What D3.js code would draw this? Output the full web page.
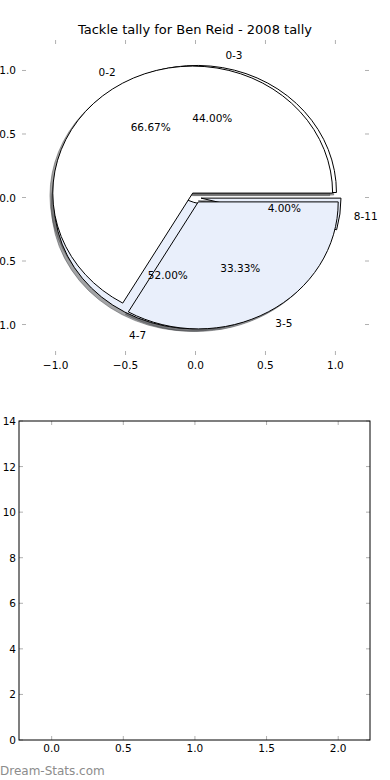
<!DOCTYPE html>
<html>
<head>
<meta charset="utf-8">
<script src="https://cdn.jsdelivr.net/npm/d3@7"></script>
<style>
  body { margin: 0; background: #fff; }
  svg { display: block; font-family: "DejaVu Sans", sans-serif; }
</style>
</head>
<body>
<svg id="chart" width="390" height="780"></svg>
<script>
// first pie (drawn on top)
var pieALabels = ["0-2", "3-5"];
var pieAValues = [2, 1];
var pieAExplode = [0.04, 0.04];
var pieAColors = ["#ffffff", "#e9effb"];

// second pie (drawn underneath)
var pieBLabels = ["0-3", "4-7", "8-11"];
var pieBValues = [11, 13, 1];
var pieBExplode = [0.04, 0.04, 0.04];
var pieBColors = ["#ffffff", "#e9effb", "#e9effb"];

var titleText = "Tackle tally for Ben Reid - 2008 tally";
var topTicks = [-1.0, -0.5, 0.0, 0.5, 1.0];
var bottomXTicks = [0.0, 0.5, 1.0, 1.5, 2.0];
var bottomYTicks = [0, 2, 4, 6, 8, 10, 12, 14];

var svg = d3.select("#chart");
var tickColor = "#b0b0b0";
var fmtTick = function (d) { return d3.format(".1f")(d).replace("-", "\u2212"); };

// ---------- top axes (pie) ----------
var xTop = d3.scaleLinear().domain([-1.24, 1.24]).range([22, 369]);
var yTop = d3.scaleLinear().domain([-1.24, 1.24]).range([355, 40]);
var kx = xTop(1) - xTop(0);
var ky = yTop(0) - yTop(1);

svg.append("text")
    .attr("x", 195).attr("y", 34)
    .attr("text-anchor", "middle")
    .attr("font-size", 13)
    .text(titleText);

var topAxes = svg.append("g");
topTicks.forEach(function (t) {
    // x ticks top + bottom
    topAxes.append("line").attr("x1", xTop(t)).attr("x2", xTop(t)).attr("y1", 40).attr("y2", 44)
        .attr("stroke", tickColor);
    topAxes.append("line").attr("x1", xTop(t)).attr("x2", xTop(t)).attr("y1", 355).attr("y2", 351)
        .attr("stroke", tickColor);
    topAxes.append("text").attr("x", xTop(t)).attr("y", 369)
        .attr("text-anchor", "middle").attr("font-size", 10.5).text(fmtTick(t));
    // y ticks left + right
    topAxes.append("line").attr("x1", 22).attr("x2", 26).attr("y1", yTop(t)).attr("y2", yTop(t))
        .attr("stroke", tickColor);
    topAxes.append("line").attr("x1", 369).attr("x2", 365).attr("y1", yTop(t)).attr("y2", yTop(t))
        .attr("stroke", tickColor);
    topAxes.append("text").attr("x", 16).attr("y", yTop(t) + 4)
        .attr("text-anchor", "end").attr("font-size", 10.5).text(fmtTick(t));
});

// matplotlib style: start at 3 o'clock, counter clockwise
var pieGen = d3.pie().sort(null).startAngle(Math.PI / 2).endAngle(Math.PI / 2 - 2 * Math.PI);
var arcGen = d3.arc().innerRadius(0).outerRadius(1);

function buildPie(labels, values, explode, colors) {
    var total = d3.sum(values);
    return pieGen(values).map(function (a, i) {
        var m = (a.startAngle + a.endAngle) / 2;
        var dx = Math.sin(m), dy = Math.cos(m);
        return {
            arc: a, label: labels[i], color: colors[i],
            pct: d3.format(".2f")(values[i] / total * 100) + "%",
            cx: explode[i] * dx, cy: explode[i] * dy, dx: dx, dy: dy
        };
    });
}

var pieA = buildPie(pieALabels, pieAValues, pieAExplode, pieAColors);
var pieB = buildPie(pieBLabels, pieBValues, pieBExplode, pieBColors);

function shade(col) {
    var c = d3.rgb(col);
    return d3.rgb(c.r * 0.3, c.g * 0.3, c.b * 0.3).toString();
}

function drawWedges(g, wedges, shadow) {
    g.selectAll("path")
        .data(wedges).enter()
        .append("path")
        .attr("transform", function (d) {
            var ox = shadow ? -0.02 : 0, oy = shadow ? -0.02 : 0;
            return "translate(" + xTop(d.cx + ox) + "," + yTop(d.cy + oy) + ") scale(" + kx + "," + ky + ")";
        })
        .attr("d", function (d) { return arcGen(d.arc); })
        .attr("vector-effect", "non-scaling-stroke")
        .attr("fill", function (d) { return shadow ? shade(d.color) : d.color; })
        .attr("fill-opacity", shadow ? 0.5 : 1)
        .attr("stroke", function (d) { return shadow ? shade(d.color) : "#000"; })
        .attr("stroke-opacity", shadow ? 0.5 : 1)
        .attr("stroke-width", 1);
}

var pieLayer = svg.append("g");
drawWedges(pieLayer.append("g"), pieB, true);
drawWedges(pieLayer.append("g"), pieA, true);
drawWedges(pieLayer.append("g"), pieB, false);
drawWedges(pieLayer.append("g"), pieA, false);

function drawLabels(wedges) {
    wedges.forEach(function (d) {
        var lx = d.cx + 1.1 * d.dx, ly = d.cy + 1.1 * d.dy;
        pieLayer.append("text")
            .attr("x", xTop(lx)).attr("y", yTop(ly) + 4)
            .attr("text-anchor", lx > 0 ? "start" : "end")
            .attr("font-size", 10.5)
            .text(d.label);
        var px = d.cx + 0.6 * d.dx, py = d.cy + 0.6 * d.dy;
        pieLayer.append("text")
            .attr("x", xTop(px)).attr("y", yTop(py) + 4)
            .attr("text-anchor", "middle")
            .attr("font-size", 10.5)
            .text(d.pct);
    });
}
drawLabels(pieB);
drawLabels(pieA);

// ---------- bottom axes (empty) ----------
var xBot = d3.scaleLinear().domain([-0.228, 2.222]).range([19, 370]);
var yBot = d3.scaleLinear().domain([0, 14]).range([740, 421]);

var bot = svg.append("g");
bottomXTicks.forEach(function (t) {
    bot.append("line").attr("x1", xBot(t)).attr("x2", xBot(t)).attr("y1", 740).attr("y2", 736).attr("stroke", tickColor);
    bot.append("line").attr("x1", xBot(t)).attr("x2", xBot(t)).attr("y1", 421).attr("y2", 425).attr("stroke", tickColor);
    bot.append("text").attr("x", xBot(t)).attr("y", 752)
        .attr("text-anchor", "middle").attr("font-size", 10.5).text(d3.format(".1f")(t));
});
bottomYTicks.forEach(function (t) {
    bot.append("line").attr("x1", 19).attr("x2", 23).attr("y1", yBot(t)).attr("y2", yBot(t)).attr("stroke", tickColor);
    bot.append("line").attr("x1", 370).attr("x2", 366).attr("y1", yBot(t)).attr("y2", yBot(t)).attr("stroke", tickColor);
    bot.append("text").attr("x", 16).attr("y", yBot(t) + 4)
        .attr("text-anchor", "end").attr("font-size", 10.5).text(t);
});
bot.append("rect")
    .attr("x", xBot.range()[0]).attr("y", yBot.range()[1])
    .attr("width", xBot.range()[1] - xBot.range()[0])
    .attr("height", yBot.range()[0] - yBot.range()[1])
    .attr("fill", "none").attr("stroke", "#000").attr("stroke-width", 1);

// watermark
svg.append("text")
    .attr("x", 0).attr("y", 775)
    .attr("font-size", 12)
    .attr("fill", "#8c8c8c")
    .text("Dream-Stats.com");
</script>
</body>
</html>
